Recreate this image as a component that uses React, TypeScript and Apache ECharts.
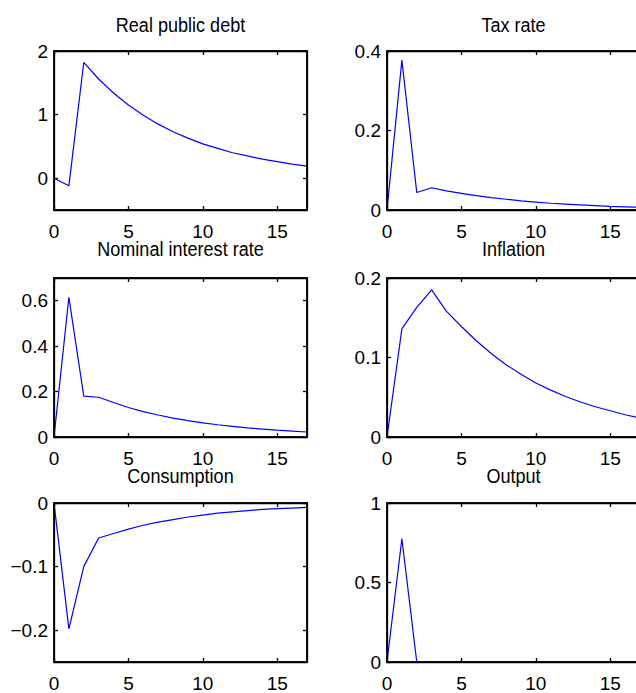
import React, { useEffect, useRef } from "react";
import * as echarts from "echarts";

const periods = [0, 1, 2, 3, 4, 5, 6, 7, 8, 9, 10, 11, 12, 13, 14, 15, 16, 17];
const xTicks = [0, 5, 10, 15];

const debt = [0, -0.12, 1.82, 1.56, 1.34, 1.15, 0.99, 0.85, 0.73, 0.63, 0.54, 0.47, 0.4, 0.35, 0.3, 0.26, 0.22, 0.19];
const taxRate = [0, 0.377, 0.044, 0.056, 0.048, 0.042, 0.036, 0.031, 0.027, 0.023, 0.02, 0.017, 0.015, 0.013, 0.011, 0.009, 0.008, 0.007];
const nominalRate = [0, 0.615, 0.18, 0.175, 0.152, 0.13, 0.112, 0.097, 0.083, 0.072, 0.062, 0.054, 0.047, 0.04, 0.035, 0.03, 0.026, 0.022];
const inflation = [0, 0.136, 0.163, 0.185, 0.158, 0.139, 0.121, 0.105, 0.091, 0.079, 0.068, 0.059, 0.051, 0.044, 0.038, 0.033, 0.028, 0.024];
const consumption = [0, -0.198, -0.1, -0.055, -0.048, -0.041, -0.035, -0.03, -0.026, -0.022, -0.019, -0.016, -0.014, -0.012, -0.01, -0.009, -0.008, -0.007];
const output = [0, 0.775, 0, 0, 0, 0, 0, 0, 0, 0, 0, 0, 0, 0, 0, 0, 0, 0];

const titles = ["Real public debt", "Tax rate", "Nominal interest rate", "Inflation", "Consumption", "Output"];
const seriesValues = [debt, taxRate, nominalRate, inflation, consumption, output];
const yMins = [-0.5, 0, 0, 0, -0.25, 0];
const yMaxs = [2, 0.4, 0.7, 0.2, 0, 1];
const yTicks = [
  [0, 1, 2],
  [0, 0.2, 0.4],
  [0, 0.2, 0.4, 0.6],
  [0, 0.1, 0.2],
  [-0.2, -0.1, 0],
  [0, 0.5, 1],
];

// layout (pixels)
const colLeft = [54, 387];
const rowTop = [51, 278, 503];
const titleY = [24, 248, 475];
const boxW = 253;
const boxH = 159;

const FONT = "'Liberation Sans', Arial, Helvetica, sans-serif";
const TICK_FS = 19;
const TITLE_FS = 21;

function fmt(v: number) {
  const s = String(Math.round(v * 1000) / 1000);
  return s.replace("-", "\u2212");
}

export default function App() {
  const ref = useRef<HTMLDivElement>(null);
  useEffect(() => {
    if (!ref.current) return;
    const chart = echarts.init(ref.current, null, { renderer: "svg" });
    const grids: any[] = [];
    const xAxes: any[] = [];
    const yAxes: any[] = [];
    const series: any[] = [];
    const graphics: any[] = [];
    const mkLine = () => ({ color: "#000", width: 1.3 });
    for (let i = 0; i < 6; i++) {
      const c = i % 2;
      const r = Math.floor(i / 2);
      grids.push({
        left: colLeft[c],
        top: rowTop[r],
        width: boxW,
        height: boxH,
        containLabel: false,
        outerBoundsMode: "none",
        show: true,
        borderColor: "#000",
        borderWidth: 1.3,
        backgroundColor: "transparent",
        z: 5,
      });
      const baseX = () => ({
        type: "value",
        gridIndex: i,
        min: 0,
        max: 17,
        splitLine: { show: false },
        axisLine: { show: true, onZero: false, lineStyle: mkLine() },
        axisTick: { show: true, inside: true, length: 4, customValues: xTicks, lineStyle: mkLine() },
      });
      xAxes.push({
        ...baseX(),
        position: "bottom",
        axisLabel: {
          show: true,
          customValues: xTicks,
          margin: 12,
          color: "#000",
          fontSize: TICK_FS,
          fontFamily: FONT,
          formatter: (v: number) => fmt(v),
        },
      });
      xAxes.push({ ...baseX(), position: "top", axisLabel: { show: false } });
      const baseY = () => ({
        type: "value",
        gridIndex: i,
        min: yMins[i],
        max: yMaxs[i],
        splitLine: { show: false },
        axisLine: { show: true, onZero: false, lineStyle: mkLine() },
        axisTick: { show: true, inside: true, length: 4, customValues: yTicks[i], lineStyle: mkLine() },
      });
      yAxes.push({
        ...baseY(),
        position: "left",
        axisLabel: {
          show: true,
          customValues: yTicks[i],
          margin: 6,
          color: "#000",
          fontSize: TICK_FS,
          fontFamily: FONT,
          formatter: (v: number) => fmt(v),
        },
      });
      yAxes.push({ ...baseY(), position: "right", axisLabel: { show: false } });
      series.push({
        type: "line",
        xAxisIndex: i * 2,
        yAxisIndex: i * 2,
        data: periods.map((p, k) => [p, seriesValues[i][k]]),
        showSymbol: false,
        symbol: "none",
        clip: false,
        lineStyle: { color: "#0000ff", width: 1.2 },
        z: 1,
      });
      graphics.push({
        type: "rect",
        z: 100,
        silent: true,
        shape: { x: colLeft[c], y: rowTop[r], width: boxW, height: boxH },
        style: { fill: "none", stroke: "#000", lineWidth: 1.5 },
      });
      graphics.push({
        type: "text",
        x: colLeft[c] + boxW / 2,
        y: titleY[r],
        scaleX: 0.86,
        style: {
          text: titles[i],
          fill: "#000",
          font: `${TITLE_FS}px ${FONT}`,
          textAlign: "center",
          textVerticalAlign: "middle",
        },
      });
    }
    chart.setOption({
      animation: false,
      backgroundColor: "#fff",
      grid: grids,
      xAxis: xAxes,
      yAxis: yAxes,
      series,
      graphic: graphics,
    });
    return () => chart.dispose();
  }, []);
  return (
    <div
      ref={ref}
      style={{ position: "absolute", left: 0, top: 0, width: 636, height: 693 }}
    />
  );
}
